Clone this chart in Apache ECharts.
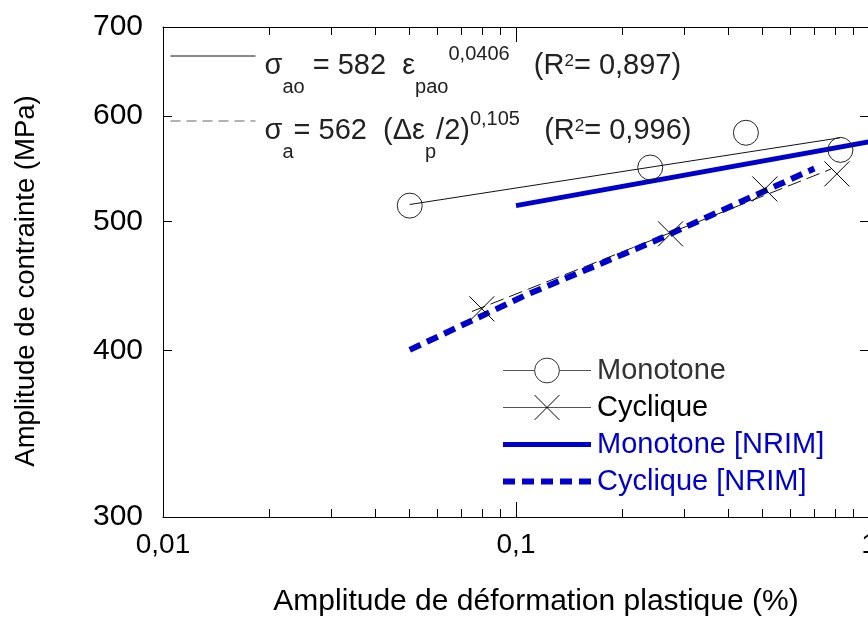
<!DOCTYPE html>
<html>
<head>
<meta charset="utf-8">
<script src="https://cdn.jsdelivr.net/npm/echarts@6/dist/echarts.min.js"></script>
<style>
html, body { margin: 0; padding: 0; background: #fff; }
#chart { width: 868px; height: 619px; }
</style>
</head>
<body>
<div id="chart"></div>
<script>
// values (strain in %, stress in MPa)
const monoStrain = [0.05, 0.24, 0.448, 0.83]
const monoStress = [514, 549, 583, 566]
const cycStrain = [0.08, 0.274, 0.507, 0.811]
const cycStress = [430, 489.5, 529, 543]
const fitMonoStrain = [0.05, 0.83]
const fitMonoStress = [515, 578]
const fitCycStrain = [0.075, 0.78]
const fitCycStress = [428, 547.5]
const nrimMonoStrain = [0.1, 1]
const nrimMonoStress = [514, 574]
const nrimCycStrain = [0.05, 0.107, 0.245, 0.47, 0.7]
const nrimCycStress = [400.5, 440.5, 483, 522.5, 548]
const yTicks = [300, 400, 500, 600, 700]

const blue = '#0000cc'
const font = 'Liberation Sans, Arial, sans-serif'
const pairs = (xs, ys) => xs.map((x, i) => [x, ys[i]])
const crossPath = 'path://M0,0L10,10M10,0L0,10'

var myChart = echarts.init(document.getElementById('chart'))

const fitLabels = {
  fitMono: '{m|σ}{sub|ao}{m| = 582  ε}{sub|pao}{sup|0,0406}{m|   (R}{sq|2}{m|= 0,897)}',
  fitCyc: '{m|σ}{sub|a}{m|= 562  (Δε}{sub|p}{m|/2)}{sup|0,105}{m|   (R}{sq|2}{m|= 0,996)}'
}

const xAxisBase = {
  type: 'log',
  min: 0.01,
  max: 1,
  logBase: 10,
  axisLine: { show: true, lineStyle: { color: '#000', width: 1 } },
  axisTick: { show: true, inside: true, length: 15, lineStyle: { color: '#000' } },
  minorTick: { show: true, splitNumber: 9, length: 8, lineStyle: { color: '#000' } },
  splitLine: { show: false },
  minorSplitLine: { show: false }
}
const yAxisBase = {
  type: 'log',
  min: 300,
  max: 700,
  logBase: 10,
  axisLine: { show: true, lineStyle: { color: '#000', width: 1 } },
  axisTick: { show: true, inside: true, length: 9, customValues: yTicks, lineStyle: { color: '#000' } },
  splitLine: { show: false }
}

myChart.setOption({
  animation: false,
  textStyle: { fontFamily: font },
  grid: { left: 163, top: 27, width: 706, height: 490, containLabel: false, outerBoundsMode: 'none' },
  legend: [
    {
      orient: 'vertical',
      left: 500,
      top: 355,
      padding: 0,
      itemWidth: 88,
      itemHeight: 31,
      itemGap: 6,
      textStyle: { fontSize: 29, lineHeight: 31, fontFamily: font, padding: [0, 0, 0, 1] },
      data: [
        { name: 'Monotone', textStyle: { color: '#333' },
          itemStyle: { color: '#fff', borderColor: '#333', borderWidth: 1, opacity: 1 },
          lineStyle: { color: '#555', width: 1, opacity: 1, type: 'solid' } },
        { name: 'Cyclique', textStyle: { color: '#000' },
          itemStyle: { color: 'rgba(0,0,0,0)', borderColor: '#000', borderWidth: 1, opacity: 1 },
          lineStyle: { color: '#555', width: 1, opacity: 1, type: 'solid' } },
        { name: 'Monotone [NRIM]', textStyle: { color: blue },
          itemStyle: { opacity: 0 },
          lineStyle: { color: blue, width: 5, opacity: 1, type: 'solid' } },
        { name: 'Cyclique [NRIM]', textStyle: { color: blue },
          itemStyle: { opacity: 0 },
          lineStyle: { color: blue, width: 6, opacity: 1, type: [12, 7] } }
      ]
    },
    {
      orient: 'vertical',
      left: 170,
      top: 35,
      padding: 0,
      itemWidth: 85,
      itemHeight: 10,
      itemGap: 3,
      formatter: name => fitLabels[name],
      textStyle: {
        color: '#222',
        fontFamily: font,
        padding: [20, 0, 0, 4],
        rich: {
          m: { fontSize: 29, lineHeight: 62, verticalAlign: 'middle', color: '#222', fontFamily: font },
          sub: { fontSize: 20, lineHeight: 20, verticalAlign: 'bottom', color: '#222', fontFamily: font },
          sup: { fontSize: 20, lineHeight: 20, verticalAlign: 'top', padding: [9, 0, 0, 0], color: '#222', fontFamily: font },
          sq: { fontSize: 17, lineHeight: 17, verticalAlign: 'top', padding: [18, 0, 0, 0], color: '#222', fontFamily: font }
        }
      },
      data: [
        { name: 'fitMono', itemStyle: { opacity: 0 },
          lineStyle: { color: '#111', width: 1, opacity: 1, type: 'solid' } },
        { name: 'fitCyc', itemStyle: { opacity: 0 },
          lineStyle: { color: '#666', width: 1, opacity: 1, type: [10, 6] } }
      ]
    }
  ],
  xAxis: [
    Object.assign({}, xAxisBase, {
      position: 'bottom',
      name: 'Amplitude de déformation plastique (%)',
      nameLocation: 'middle',
      nameGap: 70,
      nameTextStyle: { fontSize: 30, color: '#000', fontFamily: font, padding: [0, 0, 0, 40] },
      axisLabel: {
        show: true, fontSize: 28, color: '#000', margin: 14, fontFamily: font,
        formatter: v => String(v).replace('.', ',')
      }
    }),
    Object.assign({}, xAxisBase, { position: 'top', axisLabel: { show: false } })
  ],
  yAxis: [
    Object.assign({}, yAxisBase, {
      position: 'left',
      name: 'Amplitude de contrainte (MPa)',
      nameLocation: 'middle',
      nameGap: 123,
      nameTextStyle: { fontSize: 27.5, color: '#000', fontFamily: font, padding: [0, 18, 0, 0] },
      axisLabel: { show: true, fontSize: 30, color: '#000', margin: 20, customValues: yTicks, fontFamily: font }
    }),
    Object.assign({}, yAxisBase, { position: 'right', axisLabel: { show: false } })
  ],
  series: [
    {
      name: 'fitMono', type: 'line', symbol: 'none',
      data: pairs(fitMonoStrain, fitMonoStress),
      lineStyle: { color: '#111', width: 1 }, z: 2
    },
    {
      name: 'fitCyc', type: 'line', symbol: 'none',
      data: pairs(fitCycStrain, fitCycStress),
      lineStyle: { color: '#111', width: 1, type: [14, 6] }, z: 2
    },
    {
      name: 'Monotone [NRIM]', type: 'line', symbol: 'none',
      data: pairs(nrimMonoStrain, nrimMonoStress),
      lineStyle: { color: blue, width: 5 }, z: 3
    },
    {
      name: 'Cyclique [NRIM]', type: 'line', symbol: 'none',
      data: pairs(nrimCycStrain, nrimCycStress),
      lineStyle: { color: blue, width: 6, type: [12, 7] }, z: 3
    },
    {
      name: 'Monotone', type: 'line', symbol: 'circle', symbolSize: 25,
      data: pairs(monoStrain, monoStress),
      lineStyle: { opacity: 0 },
      itemStyle: { color: 'rgba(0,0,0,0)', borderColor: '#222', borderWidth: 1 }, z: 4
    },
    {
      name: 'Cyclique', type: 'line', symbol: crossPath, symbolSize: 25,
      data: pairs(cycStrain, cycStress),
      lineStyle: { opacity: 0 },
      itemStyle: { color: 'rgba(0,0,0,0)', borderColor: '#000', borderWidth: 1 }, z: 4
    }
  ]
})
</script>
</body>
</html>
